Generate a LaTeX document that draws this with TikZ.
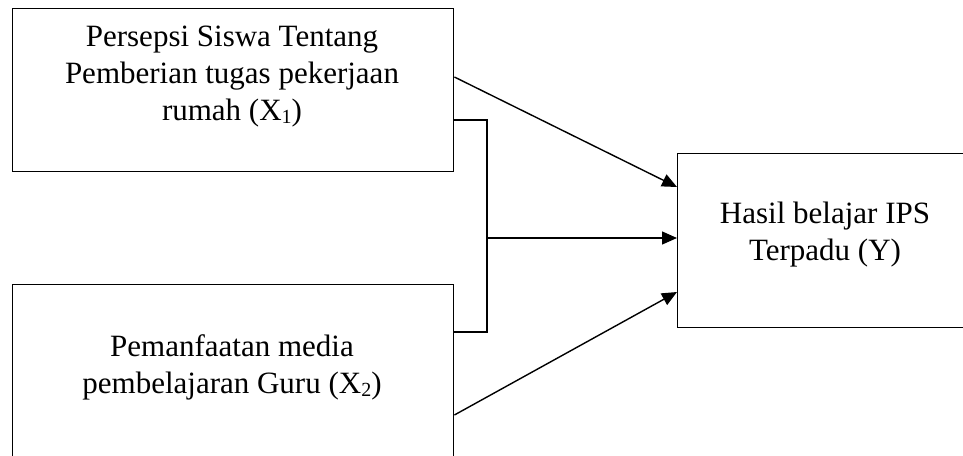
\documentclass[tikz,border=0pt]{standalone}
\usepackage{fontspec}
\setmainfont{Liberation Serif}
\usetikzlibrary{arrows.meta}
\newcommand\sbx[1]{\raisebox{-3pt}{\fontsize{20}{20}\selectfont #1}}
\begin{document}
\begin{tikzpicture}[x=1pt,y=-1pt,
  box/.style={draw,line width=1.4pt,inner sep=0pt,anchor=north west},
  txt/.style={font=\fontsize{31}{37}\selectfont,align=center,anchor=base,inner sep=0pt},
  conn/.style={line width=1.4pt},
  arr/.style={line width=1.4pt,-{Triangle[length=15pt,width=13pt]}}]
\useasboundingbox (0,0) rectangle (963,455);
\clip (0,0) rectangle (963,455);
\node[box,minimum width=441pt,minimum height=163pt] (b1) at (12,8) {};
\node[box,minimum width=441pt,minimum height=192pt] (b2) at (12,284) {};
\node[box,minimum width=296pt,minimum height=174pt] (by) at (677,153) {};
\node[txt] (t1) at (232,120) {Persepsi Siswa Tentang\\Pemberian tugas pekerjaan\\rumah (X\sbx{1})};
\node[txt] (t2) at (232,393) {Pemanfaatan media\\pembelajaran Guru (X\sbx{2})};
\node[txt] (ty) at (825,260) {Hasil belajar IPS\\Terpadu (Y)};
\draw[arr] (b1.east |- 0,77) -- (by.west |- 0,187);
\draw[conn] (b1.east |- 0,120) -| (487,238) coordinate (m) |- (b2.east |- 0,332);
\draw[arr] (m) -- (by.west |- m);
\draw[arr] (b2.east |- 0,415) -- (by.west |- 0,292);
\end{tikzpicture}
\end{document}
